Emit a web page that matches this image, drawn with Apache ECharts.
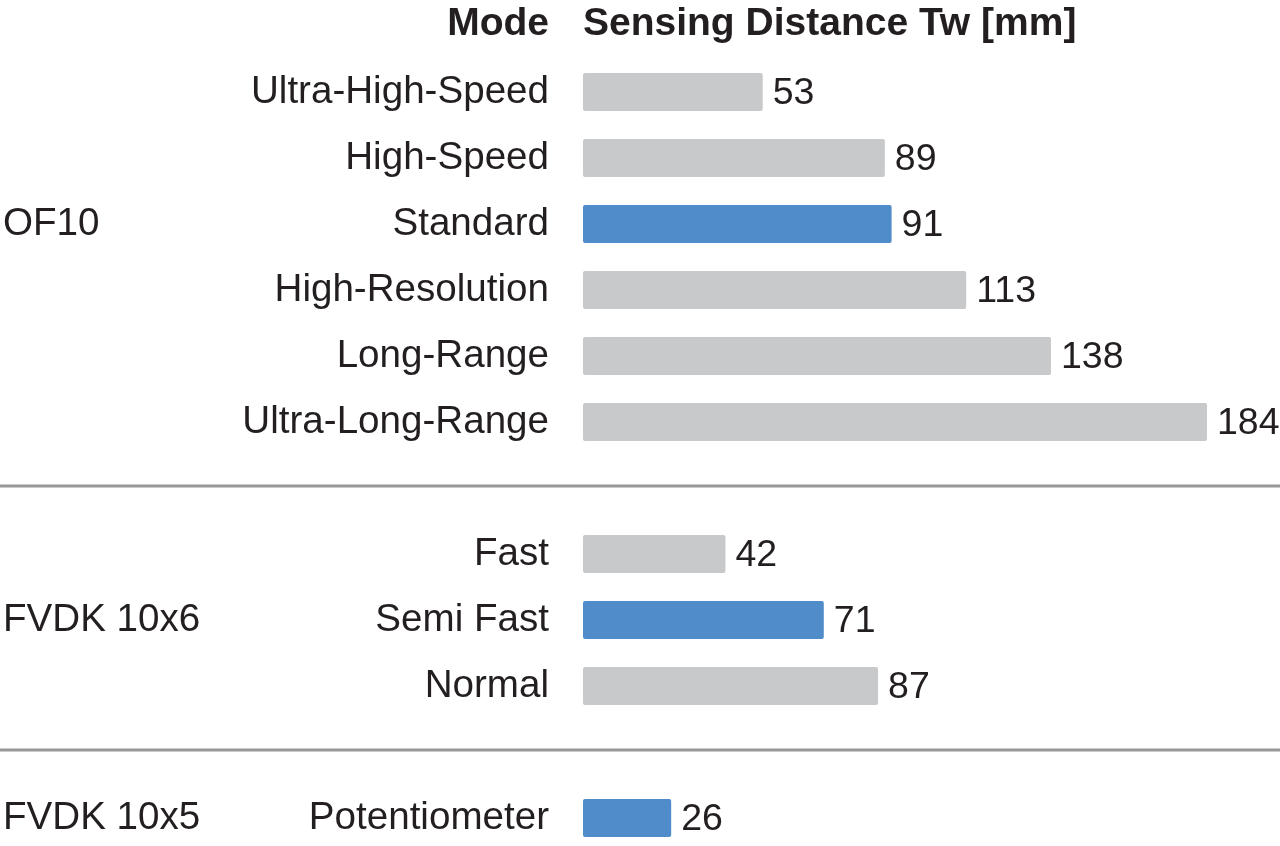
<!DOCTYPE html>
<html>
<head>
<meta charset="utf-8">
<script src="https://cdn.jsdelivr.net/npm/echarts@6/dist/echarts.min.js"></script>
<style>
html,body{margin:0;padding:0;background:#fff;}
#chart{width:1280px;height:846px;}
</style>
</head>
<body>
<div id="chart"></div>
<script>
// Data ('' marks a separator slot between product groups)
const modes = ['Ultra-High-Speed', 'High-Speed', 'Standard', 'High-Resolution', 'Long-Range', 'Ultra-Long-Range', '', 'Fast', 'Semi Fast', 'Normal', '', 'Potentiometer'];
const distances = [53, 89, 91, 113, 138, 184, null, 42, 71, 87, null, 26];
const groupLabels = ['', '', 'OF10', '', '', '', '', '', 'FVDK 10x6', '', '', 'FVDK 10x5'];
const highlightedModes = ['Standard', 'Semi Fast', 'Potentiometer'];
const headerMode = 'Mode';
const headerValue = 'Sensing Distance Tw [mm]';

const FONT = "'Liberation Sans', Arial, Helvetica, sans-serif";
const TEXT = '#231F20';
const GRAY = '#C8C9CB';
const BLUE = '#508BCA';

const chart = echarts.init(document.getElementById('chart'), null, {renderer: 'canvas'});

const barData = distances.map((v, i) => v == null ? '-' : {
  value: v,
  itemStyle: {color: highlightedModes.includes(modes[i]) ? BLUE : GRAY}
});

chart.setOption({
  animation: false,
  backgroundColor: '#fff',
  textStyle: {fontFamily: FONT},
  title: [
    {text: headerMode, right: 731, top: 5, padding: 0,
     textStyle: {fontFamily: FONT, fontSize: 39, fontWeight: 'bold', color: TEXT}},
    {text: headerValue, left: 583, top: 5, padding: 0,
     textStyle: {fontFamily: FONT, fontSize: 39, fontWeight: 'bold', color: TEXT}}
  ],
  grid: {left: 583, right: 73, top: 92, height: 726, containLabel: false},
  xAxis: {
    type: 'value', min: 0, max: 'dataMax', show: false
  },
  yAxis: [
    {
      type: 'category', inverse: true, data: modes, boundaryGap: false,
      axisLine: {show: false}, axisTick: {show: false}, splitLine: {show: false},
      axisLabel: {fontFamily: FONT, fontSize: 38.6, color: TEXT, margin: 34, interval: 0, padding: [4, 0, 0, 0]}
    },
    {
      type: 'category', inverse: true, data: groupLabels, position: 'left', boundaryGap: false,
      axisLine: {show: false}, axisTick: {show: false}, splitLine: {show: false},
      axisLabel: {fontFamily: FONT, fontSize: 38.6, color: TEXT, align: 'left', margin: 580, interval: 0, padding: [4, 0, 0, 0]}
    }
  ],
  series: [{
    type: 'bar',
    data: barData,
    barWidth: 38,
    clip: false,
    itemStyle: {borderRadius: 2},
    label: {show: true, position: 'right', distance: 10, offset: [0, 2], fontFamily: FONT, fontSize: 37.5, color: TEXT}
  }]
});

// Full-width separator lines at the blank slots, positioned through the axis scale
const W = chart.getWidth();
const seps = [];
modes.forEach((m, i) => {
  if (m === '') {
    const y = chart.convertToPixel({yAxisIndex: 0}, i) - 2;
    seps.push({type: 'line', shape: {x1: 0, y1: y, x2: W, y2: y}, style: {stroke: '#96989A', lineWidth: 3}});
  }
});
chart.setOption({graphic: seps});
</script>
</body>
</html>
